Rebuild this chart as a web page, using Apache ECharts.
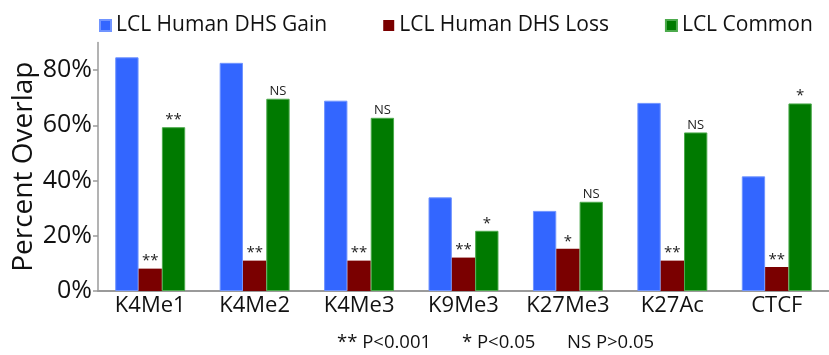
<!DOCTYPE html>
<html>
<head>
<meta charset="utf-8">
<script src="https://cdn.jsdelivr.net/npm/echarts@6/dist/echarts.min.js"></script>
<style>html,body{margin:0;padding:0;background:#fff;}#c{width:829px;height:355px;}</style>
</head>
<body>
<div id="c"></div>
<script>
const categories = ['K4Me1','K4Me2','K4Me3','K9Me3','K27Me3','K27Ac','CTCF'];
const gain = [84.6, 82.6, 68.9, 33.9, 29.0, 68.1, 41.5];
const loss = [8.1, 11.0, 11.0, 12.1, 15.3, 11.0, 8.7];
const common = [59.3, 69.6, 62.7, 21.8, 32.3, 57.4, 67.9];
const lossSig = ['**','**','**','**','*','**','**'];
const commonSig = ['**','NS','NS','*','NS','NS','*'];
const yTicks = [0, 20, 40, 60, 80];
const seriesNames = ['LCL Human DHS Gain','LCL Human DHS Loss','LCL Common'];
const notes = ['** P<0.001', '* P<0.05', 'NS P>0.05'];

const FONT = 'Open Sans';
const chart = echarts.init(document.getElementById('c'));
const sigLabel = (arr) => ({
  show: true, position: 'top', distance: 1,
  formatter: p => arr[p.dataIndex] === 'NS' ? '{n|NS}' : '{a|' + arr[p.dataIndex] + '}',
  rich: {
    n: {fontFamily: FONT, fontSize: 13, color: '#222'},
    a: {fontFamily: FONT, fontSize: 15, color: '#222', lineHeight: 13}
  }
});
chart.setOption({
  animation: false,
  textStyle: {fontFamily: FONT},
  legend: {
    left: 94, top: 10, itemWidth: 11, itemHeight: 11, itemGap: 56,
    icon: 'rect',
    textStyle: {fontFamily: FONT, fontSize: 21, color: '#111'},
    data: seriesNames
  },
  grid: {left: 98, right: 0, top: 42.4, bottom: 64, containLabel: false, outerBoundsMode: 'none'},
  xAxis: {
    type: 'category', data: categories,
    axisLine: {lineStyle: {color: '#9a9a9a', width: 2}},
    axisTick: {show: false},
    axisLabel: {interval: 0, fontFamily: FONT, fontSize: 22, color: '#111', margin: 4}
  },
  yAxis: {
    type: 'value', min: 0, max: 90, interval: 20,
    name: 'Percent Overlap', nameLocation: 'middle', nameGap: 60, nameRotate: 90,
    nameMoveOverlap: false,
    nameTextStyle: {fontFamily: FONT, fontSize: 28, color: '#111'},
    axisLine: {show: true, lineStyle: {color: '#9a9a9a', width: 1.5}},
    axisTick: {show: true, length: 5, customValues: yTicks, lineStyle: {color: '#9a9a9a', width: 1.5}},
    axisLabel: {customValues: yTicks, fontFamily: FONT, fontSize: 25, color: '#111', margin: 6, formatter: v => v + '%'},
    splitLine: {show: false}
  },
  series: [
    {name: seriesNames[0], type: 'bar', data: gain, barGap: 0, barCategoryGap: '33%',
     itemStyle: {color: '#3366ff', borderColor: '#7094ff', borderWidth: 1}},
    {name: seriesNames[1], type: 'bar', data: loss, barGap: 0, barCategoryGap: '33%',
     itemStyle: {color: '#7a0000'}, label: sigLabel(lossSig)},
    {name: seriesNames[2], type: 'bar', data: common, barGap: 0, barCategoryGap: '33%',
     itemStyle: {color: '#007a00', borderColor: '#4caa4c', borderWidth: 1}, label: sigLabel(commonSig)}
  ],
  graphic: [
    {type: 'text', left: 337, top: 333, style: {text: notes[0], font: '18.5px "Open Sans"', fill: '#111'}},
    {type: 'text', left: 462, top: 333, style: {text: notes[1], font: '18.5px "Open Sans"', fill: '#111'}},
    {type: 'text', left: 567, top: 333, style: {text: notes[2], font: '18.5px "Open Sans"', fill: '#111'}}
  ]
});
</script>
</body>
</html>
